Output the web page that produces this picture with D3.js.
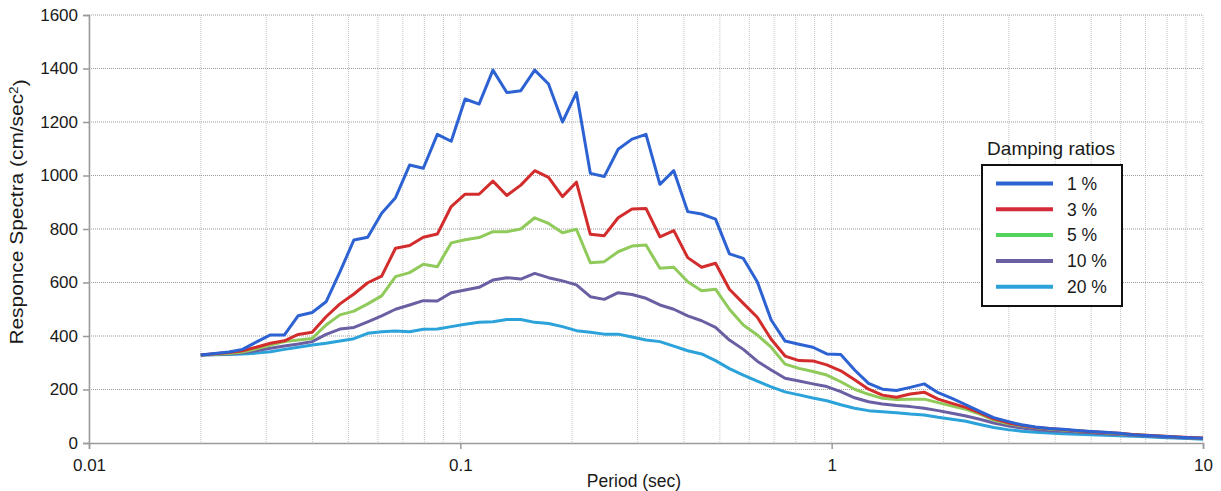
<html lang="en">
<head>
    <meta charset="UTF-8">
    <meta name="viewport" content="width=device-width, initial-scale=1.0">
    <title>Responce Spectra</title>
    <script src="https://d3js.org/d3.v7.min.js"></script>
    <style>
        body {
            margin: 0;
            background: #fff;
        }
        svg {
            font-family: "Liberation Sans", Arial, sans-serif;
        }
    </style>
</head>

<body>
    <script>
        // Periods (sec)
        const periods = [0.02, 0.0218, 0.0238, 0.0259, 0.0282, 0.0308, 0.0336, 0.0366, 0.0399, 0.0435,
            0.0474, 0.0517, 0.0563, 0.0614, 0.0669, 0.0730, 0.0795, 0.0867, 0.0945, 0.1030,
            0.1123, 0.1224, 0.1334, 0.1455, 0.1586, 0.1728, 0.1884, 0.2054, 0.2239, 0.2441,
            0.2661, 0.2900, 0.3162, 0.3447, 0.3757, 0.4096, 0.4465, 0.4867, 0.5305, 0.5783,
            0.6304, 0.6872, 0.7491, 0.8166, 0.8902, 0.9704, 1.058, 1.153, 1.257, 1.370,
            1.494, 1.628, 1.775, 1.935, 2.109, 2.299, 2.506, 2.732, 2.978, 3.246,
            3.539, 3.858, 4.205, 4.584, 4.997, 5.447, 5.938, 6.473, 7.056, 7.691,
            8.384, 9.140, 10];

        // Response spectra (cm/sec2) per damping ratio
        const damp1 = [329, 335, 340, 350, 377, 404, 404, 476, 488, 528,
            640, 759, 769, 859, 917, 1039, 1027, 1154, 1128, 1286,
            1267, 1394, 1310, 1317, 1394, 1342, 1200, 1310, 1008, 996,
            1098, 1136, 1154, 967, 1018, 865, 856, 837, 707, 690,
            603, 460, 381, 369, 358, 333, 331, 273, 223, 201,
            196, 208, 221, 188, 167, 143, 118, 95, 81, 68,
            60, 54, 51, 47, 43, 40, 36, 31, 28, 25,
            22, 20, 18];
        const damp3 = [329, 334, 338, 345, 358, 373, 382, 406, 414, 472,
            520, 557, 599, 624, 728, 738, 769, 781, 884, 930,
            930, 979, 925, 964, 1018, 993, 921, 975, 780, 775,
            842, 875, 877, 771, 794, 693, 657, 672, 575, 522,
            470, 388, 325, 308, 307, 292, 270, 236, 201, 179,
            171, 183, 190, 164, 148, 133, 113, 90, 76, 66,
            58, 54, 50, 46, 42, 39, 36, 32, 29, 26,
            23, 21, 19];
        const damp5 = [329, 332, 335, 340, 352, 366, 379, 385, 391, 441,
            479, 493, 520, 550, 622, 637, 668, 659, 748, 760,
            768, 790, 790, 800, 842, 821, 786, 799, 674, 678,
            715, 736, 740, 653, 657, 603, 569, 575, 500, 441,
            404, 358, 295, 279, 267, 254, 229, 201, 182, 167,
            163, 164, 164, 151, 138, 126, 108, 86, 73, 64,
            57, 52, 49, 45, 42, 38, 35, 31, 28, 25,
            22, 20, 18];
        const damp10 = [329, 331, 333, 337, 345, 354, 363, 370, 379, 406,
            426, 432, 453, 475, 500, 516, 532, 531, 562, 572,
            582, 609, 618, 613, 634, 618, 606, 591, 547, 537,
            562, 555, 541, 516, 500, 475, 457, 432, 385, 350,
            306, 273, 242, 232, 221, 211, 192, 169, 154, 146,
            140, 136, 130, 121, 111, 101, 89, 75, 64, 56,
            50, 46, 44, 41, 38, 35, 32, 29, 26, 23,
            21, 19, 17];
        const damp20 = [329, 330, 331, 333, 336, 341, 350, 358, 366, 373,
            381, 390, 410, 416, 419, 416, 425, 426, 435, 444,
            451, 453, 462, 462, 451, 447, 435, 420, 414, 407,
            407, 396, 385, 379, 362, 345, 333, 308, 278, 254,
            231, 210, 191, 180, 168, 158, 143, 130, 121, 117,
            113, 108, 105, 96, 89, 81, 69, 58, 50, 44,
            40, 37, 35, 33, 31, 29, 27, 25, 23, 21,
            19, 17, 14];

        const seriesNames = ["1 %", "3 %", "5 %", "10 %", "20 %"];
        const seriesValues = [damp1, damp3, damp5, damp10, damp20];
        const lineColors = ["#2d62d3", "#d22c2c", "#8fca5a", "#6a5fa3", "#2ba2d9"];
        const legendColors = ["#2d62d3", "#d42a3a", "#52d45c", "#6a5fa3", "#2ba2d9"];

        const yTicks = [0, 200, 400, 600, 800, 1000, 1200, 1400, 1600];
        const xTicks = [0.01, 0.1, 1, 10];

        // Size and margins
        const width = 1221;
        const height = 491;
        const margin = { top: 15, right: 18, bottom: 48, left: 89 };

        // Scales
        const x = d3.scaleLog()
            .domain([0.01, 10])
            .range([margin.left, width - margin.right]);

        const y = d3.scaleLinear()
            .domain([0, 1600])
            .range([height - margin.bottom, margin.top]);

        const svg = d3.select("body")
            .append("svg")
            .attr("width", width)
            .attr("height", height);

        // Grid - vertical (every log minor tick)
        svg.append("g")
            .selectAll("line")
            .data(x.ticks())
            .join("line")
            .attr("x1", d => x(d))
            .attr("x2", d => x(d))
            .attr("y1", y(1600))
            .attr("y2", y(0))
            .attr("stroke", "#c4c4c4")
            .attr("stroke-width", 1)
            .attr("stroke-dasharray", "1,1");

        // Grid - horizontal
        svg.append("g")
            .selectAll("line")
            .data(yTicks.filter(d => d > 0))
            .join("line")
            .attr("x1", x(0.01))
            .attr("x2", x(10))
            .attr("y1", d => y(d))
            .attr("y2", d => y(d))
            .attr("stroke", "#9c9c9c")
            .attr("stroke-width", 1)
            .attr("stroke-dasharray", "1,1");

        // Axes
        const xAxis = svg.append("g")
            .attr("transform", `translate(0,${y(0)})`)
            .call(d3.axisBottom(x).tickValues(xTicks).tickFormat(d => String(d)).tickSize(6).tickPadding(10));

        const yAxis = svg.append("g")
            .attr("transform", `translate(${x(0.01)},0)`)
            .call(d3.axisLeft(y).tickValues(yTicks).tickFormat(d3.format("d")).tickSize(6).tickPadding(5));

        [xAxis, yAxis].forEach(a => {
            a.select(".domain").attr("stroke", "#9a9a9a").attr("stroke-width", 1.5);
            a.selectAll(".tick line").attr("stroke", "#9a9a9a").attr("stroke-width", 1.5);
            a.selectAll("text")
                .attr("fill", "#1a1a1a")
                .style("font-size", "17px")
                .style("font-family", "'Liberation Sans', Arial, sans-serif");
        });

        // Lines
        const line = d3.line()
            .x((d, i) => x(periods[i]))
            .y(d => y(d));

        svg.append("g")
            .selectAll("path")
            .data(seriesValues.slice().reverse())
            .join("path")
            .attr("d", d => line(d))
            .attr("fill", "none")
            .attr("stroke", (d, i) => lineColors[lineColors.length - 1 - i])
            .attr("stroke-width", 3)
            .attr("stroke-linejoin", "round");

        // Axis titles
        svg.append("text")
            .attr("x", 634)
            .attr("y", 487)
            .attr("text-anchor", "middle")
            .attr("fill", "#1a1a1a")
            .style("font-size", "17.5px")
            .text("Period (sec)");

        const yTitle = svg.append("text")
            .attr("transform", "translate(23,212) rotate(-90) scale(1.13,1)")
            .attr("text-anchor", "middle")
            .attr("fill", "#1a1a1a")
            .style("font-size", "18.5px");
        yTitle.append("tspan").text("Responce Spectra (cm/sec");
        yTitle.append("tspan").attr("dy", "-0.45em").style("font-size", "12px").text("2");
        yTitle.append("tspan").attr("dy", "0.45em").text(")");

        // Legend
        svg.append("text")
            .attr("x", 1051)
            .attr("y", 155)
            .attr("text-anchor", "middle")
            .attr("fill", "#1a1a1a")
            .style("font-size", "19px")
            .text("Damping ratios");

        svg.append("rect")
            .attr("x", 982)
            .attr("y", 165)
            .attr("width", 140)
            .attr("height", 141)
            .attr("fill", "#fff")
            .attr("stroke", "#111")
            .attr("stroke-width", 2);

        const legend = svg.append("g")
            .attr("transform", "translate(996,183.5)")
            .selectAll("g")
            .data(seriesNames)
            .join("g")
            .attr("transform", (d, i) => `translate(0,${i * 25.8})`);

        legend.append("line")
            .attr("x1", 0)
            .attr("x2", 57)
            .attr("stroke", (d, i) => legendColors[i])
            .attr("stroke-width", 4);

        legend.append("text")
            .attr("x", 71)
            .attr("dy", "0.36em")
            .attr("fill", "#1a1a1a")
            .style("font-size", "17.5px")
            .text(d => d);
    </script>
</body>
</html>
